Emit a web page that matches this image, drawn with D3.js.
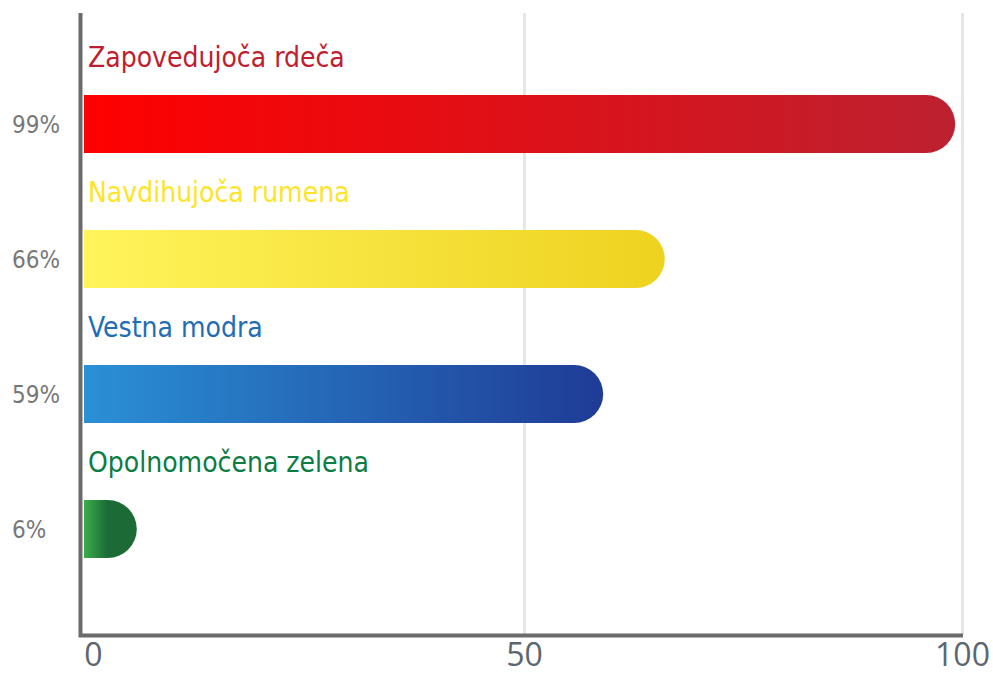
<!DOCTYPE html>
<html>
<head>
<meta charset="utf-8">
<script src="https://cdn.jsdelivr.net/npm/d3@7"></script>
<style>
  body { margin: 0; background: #fff; }
  svg { display: block; }
</style>
</head>
<body>
<div id="chart"></div>
<script>
// data
var categories = ['Zapovedujoča rdeča', 'Navdihujoča rumena', 'Vestna modra', 'Opolnomočena zelena'];
var values = [99, 66, 59, 6];
var percentLabels = ['99%', '66%', '59%', '6%'];
var xTicks = [0, 50, 100];
var labelColors = ['#be1e2d', '#fde428', '#1f6db4', '#0b7c43'];
var gradStart = ['#ff0000', '#fff45c', '#2a90d6', '#3cad4a'];
var gradEnd = ['#bd2130', '#eed21f', '#1f3b95', '#1c6a36'];

var W = 993, H = 677;
var svg = d3.select('#chart').append('svg').attr('width', W).attr('height', H);

var x = d3.scaleLinear().domain([0, 100]).range([84, 964]);
var y = d3.scaleBand().domain(d3.range(categories.length)).range([38, 578]);
var barH = 58;

var defs = svg.append('defs');
categories.forEach(function(c, i){
	var g = defs.append('linearGradient').attr('id', 'g' + i)
		.attr('x1', '0%').attr('x2', '100%').attr('y1', '0%').attr('y2', '0%');
	g.append('stop').attr('offset', '0%').attr('stop-color', gradStart[i]);
	// the short green bar darkens quickly
	if (i === 3) g.append('stop').attr('offset', '45%').attr('stop-color', gradEnd[i]);
	g.append('stop').attr('offset', '100%').attr('stop-color', gradEnd[i]);
});

// grid lines
svg.append('g')
	.attr('transform', 'translate(0,635)')
	.call(d3.axisBottom(x).tickValues([50, 100]).tickSize(-622).tickFormat(''))
	.call(function(g){
		g.select('.domain').remove();
		g.selectAll('line').attr('stroke', '#e6e6e6').attr('stroke-width', 3)
			.attr('transform', function(d){ return d === 100 ? 'translate(-2,0)' : null; });
	});

// bars: square left, round right
function barPath(d, i){
	var x0 = x(0), x1 = x(d), top = y(i) + 57, r = barH / 2;
	return 'M' + x0 + ',' + top + 'H' + (x1 - r) +
		'A' + r + ',' + r + ' 0 0 1 ' + (x1 - r) + ',' + (top + barH) +
		'H' + x0 + 'Z';
}
svg.append('g').selectAll('path').data(values).enter().append('path')
	.attr('d', barPath)
	.attr('fill', function(d, i){ return 'url(#g' + i + ')'; });

// category labels
svg.append('g').selectAll('text').data(categories).enter().append('text')
	.attr('x', 88)
	.attr('y', function(d, i){ return y(i) + 29; })
	.attr('fill', function(d, i){ return labelColors[i]; })
	.style('font-family', '"DejaVu Sans Condensed", "DejaVu Sans", sans-serif')
	.style('font-size', '28px')
	.text(function(d){ return d; });

// percent labels
svg.append('g').selectAll('text').data(percentLabels).enter().append('text')
	.attr('x', 12)
	.attr('y', function(d, i){ return y(i) + 57 + barH / 2; })
	.attr('dy', '0.36em')
	.attr('fill', '#777')
	.style('font-family', '"DejaVu Sans Condensed", "DejaVu Sans", sans-serif')
	.style('font-size', '24px')
	.text(function(d){ return d; });

// axes
var xAxis = svg.append('g')
	.attr('transform', 'translate(0,635)')
	.call(d3.axisBottom(x).tickValues(xTicks).tickSize(0).tickPadding(8));
xAxis.select('.domain').remove();
xAxis.selectAll('text')
	.attr('fill', '#5c6670')
	.style('font-family', '"Open Sans", sans-serif')
	.style('font-size', '32px')
	.attr('dy', '0.71em')
	.attr('dx', function(d){ return d === 0 ? 9 : (d === 100 ? -2 : 0); });

svg.append('path')
	.attr('d', 'M80.5,13V635.5H963')
	.attr('fill', 'none')
	.attr('stroke', '#6b6b6b')
	.attr('stroke-width', 4);
</script>
</body>
</html>
